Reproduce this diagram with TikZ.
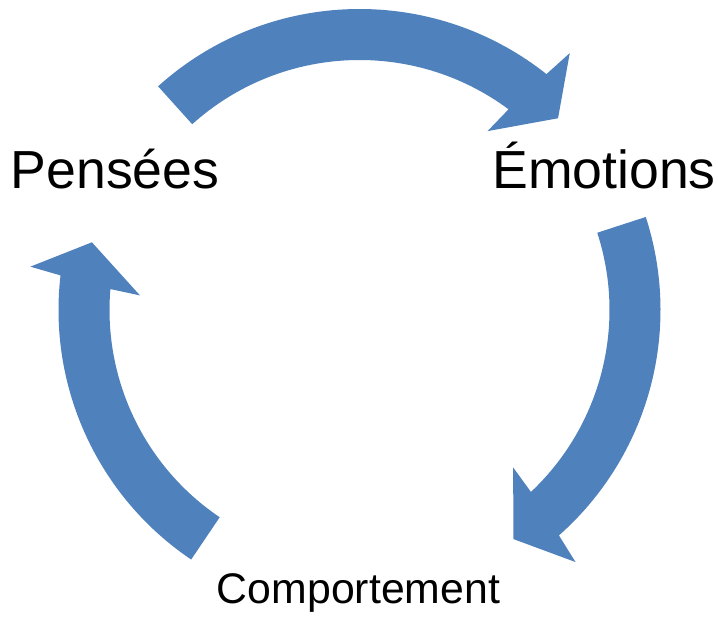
\documentclass[tikz,border=0pt]{standalone}
\usepackage{fontspec}
\setmainfont{Liberation Sans}
\definecolor{cycleblue}{HTML}{4F81BD}

\begin{document}
\begin{tikzpicture}[
    turn/.style={fill=cycleblue},
    stage/.style={inner sep=0pt, anchor=base, text=black},
    big/.style={stage, font=\fontsize{26.8}{32}\selectfont},
    small/.style={stage, font=\fontsize{21.4}{26}\selectfont},
    x=0.5pt, y=0.5pt]

    % ----- page frame, centre of the cycle at the origin
    \useasboundingbox (-359.5, -310) rectangle (358.5, 310);

    % ----- the three curved block arrows: tail angle / angle where the head starts
    \foreach \t/\b in {132/52.5, 18/-47.6, 236/174.3} {
        \fill[turn] (\t:301) arc[start angle=\t, end angle={\b-0.9}, radius=301]
            -- ({\b-1.8}:332) -- ({\b-8.5}:276) -- ({\b+1.9}:220)
            -- ({\b+0.9}:250) arc[start angle={\b+0.9}, end angle=\t, radius=250]
            -- cycle;
    }

    % ----- stage labels
    \node[big]   (pensees)  at (-244.5, 121) {Pensées};
    \node[big]   (emotions) at ( 244.5, 121) {Émotions};
    \node[small] (comport)  at (   -1.0, -294) {Comportement};
\end{tikzpicture}
\end{document}
